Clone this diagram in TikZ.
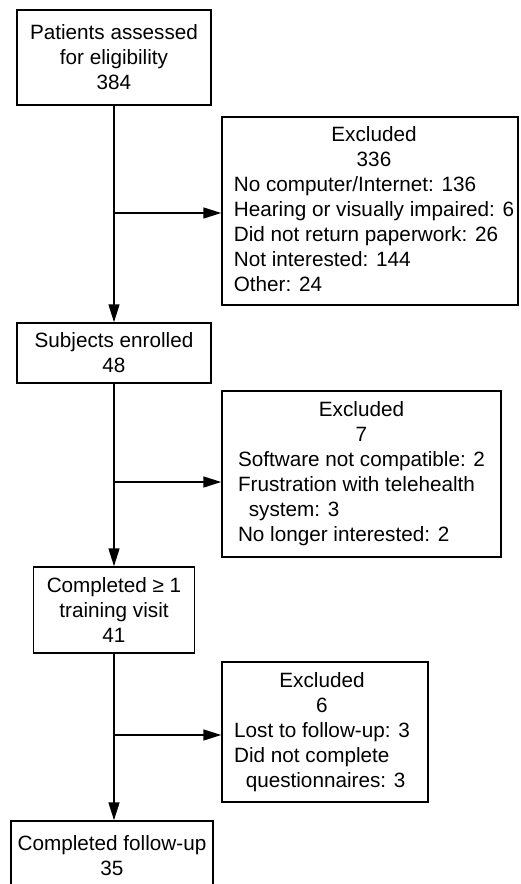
\documentclass[tikz,border=0pt]{standalone}
\usepackage{fontspec}
\setmainfont{Liberation Sans}
\usetikzlibrary{arrows.meta}

\begin{document}
\begin{tikzpicture}[x=0.5pt, y=-0.5pt,
		every node/.style={font=\fontsize{10.35pt}{12.5pt}\selectfont},
		stage/.style={draw, line width=0.75pt, align=center, inner sep=0pt},
		excl/.style={draw, line width=0.75pt, inner sep=0pt},
		flow/.style={line width=0.75pt, -{Triangle[length=9pt, width=5.5pt]}}]
		\useasboundingbox (0,0) rectangle (520,884);
		\clip (0,0) rectangle (520,884);
		% main column
		\node[stage, minimum width=97pt, minimum height=47.5pt] (assessed) at (114,57.5) {Patients assessed\\for eligibility\\384};
		\node[stage, minimum width=97pt, minimum height=30pt] (enrolled) at (114,353) {Subjects enrolled\\48};
		\node[stage, minimum width=80.5pt, minimum height=43pt] (trained) at (114,610) {Completed ≥ 1\\training visit\\41};
		\node[stage, minimum width=101pt, minimum height=35pt] (followup) at (112,856) {Completed follow-up\\35};
		% exclusions
		\node[excl, minimum width=148pt, minimum height=94pt] (excl1) at (370,211) {\hspace*{4pt}\begin{tabular}{@{}l@{}}
			\multicolumn{1}{@{}c@{}}{Excluded}\\
			\multicolumn{1}{@{}c@{}}{336}\\
			No computer/Internet: 136\\
			Hearing or visually impaired: 6\\
			Did not return paperwork: 26\\
			Not interested: 144\\
			Other: 24
		\end{tabular}};
		\node[excl, minimum width=139.5pt, minimum height=83pt] (excl2) at (361.5,474) {\begin{tabular}{@{}l@{}}
			\multicolumn{1}{@{}c@{}}{Excluded}\\
			\multicolumn{1}{@{}c@{}}{7}\\
			Software not compatible: 2\\
			Frustration with telehealth\\
			\hspace*{5.4pt}system: 3\\
			No longer interested: 2
		\end{tabular}};
		\node[excl, minimum width=103pt, minimum height=70pt] (excl3) at (325,732) {\begin{tabular}{@{}l@{}}
			\multicolumn{1}{@{}c@{}}{Excluded}\\
			\multicolumn{1}{@{}c@{}}{6}\\
			Lost to follow-up: 3\\
			Did not complete\\
			\hspace*{5.8pt}questionnaires: 3
		\end{tabular}\hspace*{3pt}};
		% splits on the main line
		\coordinate (split1) at (114,213);
		\coordinate (split2) at (114,482);
		\coordinate (split3) at (114,735);
		\draw[flow] (assessed.south) -- (enrolled.north);
		\draw[flow] (enrolled.south) -- (enrolled.south |- trained.north);
		\draw[flow] (trained.south) -- (trained.south |- followup.north);
		\draw[flow] (split1) -- (split1 -| excl1.west);
		\draw[flow] (split2) -- (split2 -| excl2.west);
		\draw[flow] (split3) -- (split3 -| excl3.west);
	\end{tikzpicture}
\end{document}
